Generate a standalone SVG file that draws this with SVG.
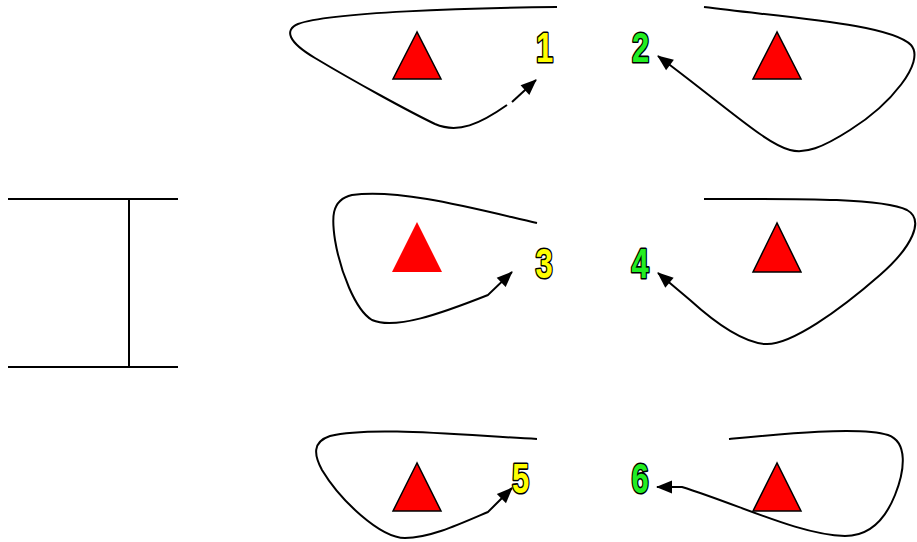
<svg xmlns="http://www.w3.org/2000/svg" width="917" height="542" viewBox="0 0 917 542">
<style>
.c{fill:none;stroke:#000;stroke-width:2}
.t{fill:#ff0000;stroke:#000;stroke-width:1.5;stroke-linejoin:miter}
.t3{fill:#ff0000;stroke:none}
.n{font-family:"Liberation Sans",Arial,sans-serif;font-weight:bold;font-size:43px;text-anchor:middle;stroke:#000;stroke-width:3.2;stroke-linejoin:round;paint-order:stroke}
.y{fill:#ffff00}
.g{fill:#22ee22}
.l{stroke:#000;stroke-width:2;fill:none}
</style>
<defs>
<marker id="ah" markerUnits="userSpaceOnUse" markerWidth="17" markerHeight="13" refX="15" refY="6.5" orient="auto" style="overflow:visible">
<path d="M0,0 L16,6.5 L0,13 z" fill="#000"/>
</marker>
</defs>
<rect width="917" height="542" fill="#fff"/>
<g id="ibeam">
<line class="l" x1="8" y1="199" x2="178" y2="199"/>
<line class="l" x1="8" y1="367" x2="178" y2="367"/>
<line class="l" x1="129" y1="199" x2="129" y2="367"/>
</g>
<g id="connectors">
<path class="c" d="M557,7 C470,8 330,12 298,24 C284,30 288,42 315,58 C355,82 410,112 435,124 C458,134 480,124 507,105"/>
<path class="c" d="M512,102 L536,80" marker-end="url(#ah)"/>
<path class="c" d="M704,7 C790,18 890,24 911,45 C926,62 890,105 850,130 C822,148 805,154 790,150 C765,143 730,110 658,56" marker-end="url(#ah)"/>
<path class="c" d="M537,223 C480,210 400,188 352,195 C330,200 332,220 335,240 C340,270 355,310 372,320 C395,330 440,314 488,295 L512,272" marker-end="url(#ah)"/>
<path class="c" d="M704,199 C780,199 880,197 907,210 C925,220 912,247 880,275 C840,310 790,346 765,344 C740,342 712,320 690,300 L658,273" marker-end="url(#ah)"/>
<path class="c" d="M537,439 C460,435 370,426 330,436 C312,442 314,455 322,470 C340,500 380,538 405,538 C430,538 460,524 488,512 L512,488" marker-end="url(#ah)"/>
<path class="c" d="M729,439 C780,434 860,426 888,435 C908,442 905,470 895,495 C885,520 870,536 845,536 C800,535 740,505 682,487 L657,487" marker-end="url(#ah)"/>
</g>
<g id="node1">
<polygon class="t" points="417,32 393,79 441,79"/>
<text class="n y" transform="translate(544.5,62) scale(0.72,1)">1</text>
</g>
<g id="node2">
<polygon class="t" points="777,32 753,79 801,79"/>
<text class="n g" transform="translate(640.5,62) scale(0.72,1)">2</text>
</g>
<g id="node3">
<polygon class="t3" points="417,222 392,272 442,272"/>
<text class="n y" transform="translate(544,277.5) scale(0.72,1)">3</text>
</g>
<g id="node4">
<polygon class="t" points="777,223 753,272 801,272"/>
<text class="n g" transform="translate(640,277.5) scale(0.72,1)">4</text>
</g>
<g id="node5">
<polygon class="t" points="417,463 393,511 441,511"/>
<text class="n y" transform="translate(520.5,492.5) scale(0.72,1)">5</text>
</g>
<g id="node6">
<polygon class="t" points="777,463 753,511 801,511"/>
<text class="n g" transform="translate(640,492.5) scale(0.72,1)">6</text>
</g>
</svg>
